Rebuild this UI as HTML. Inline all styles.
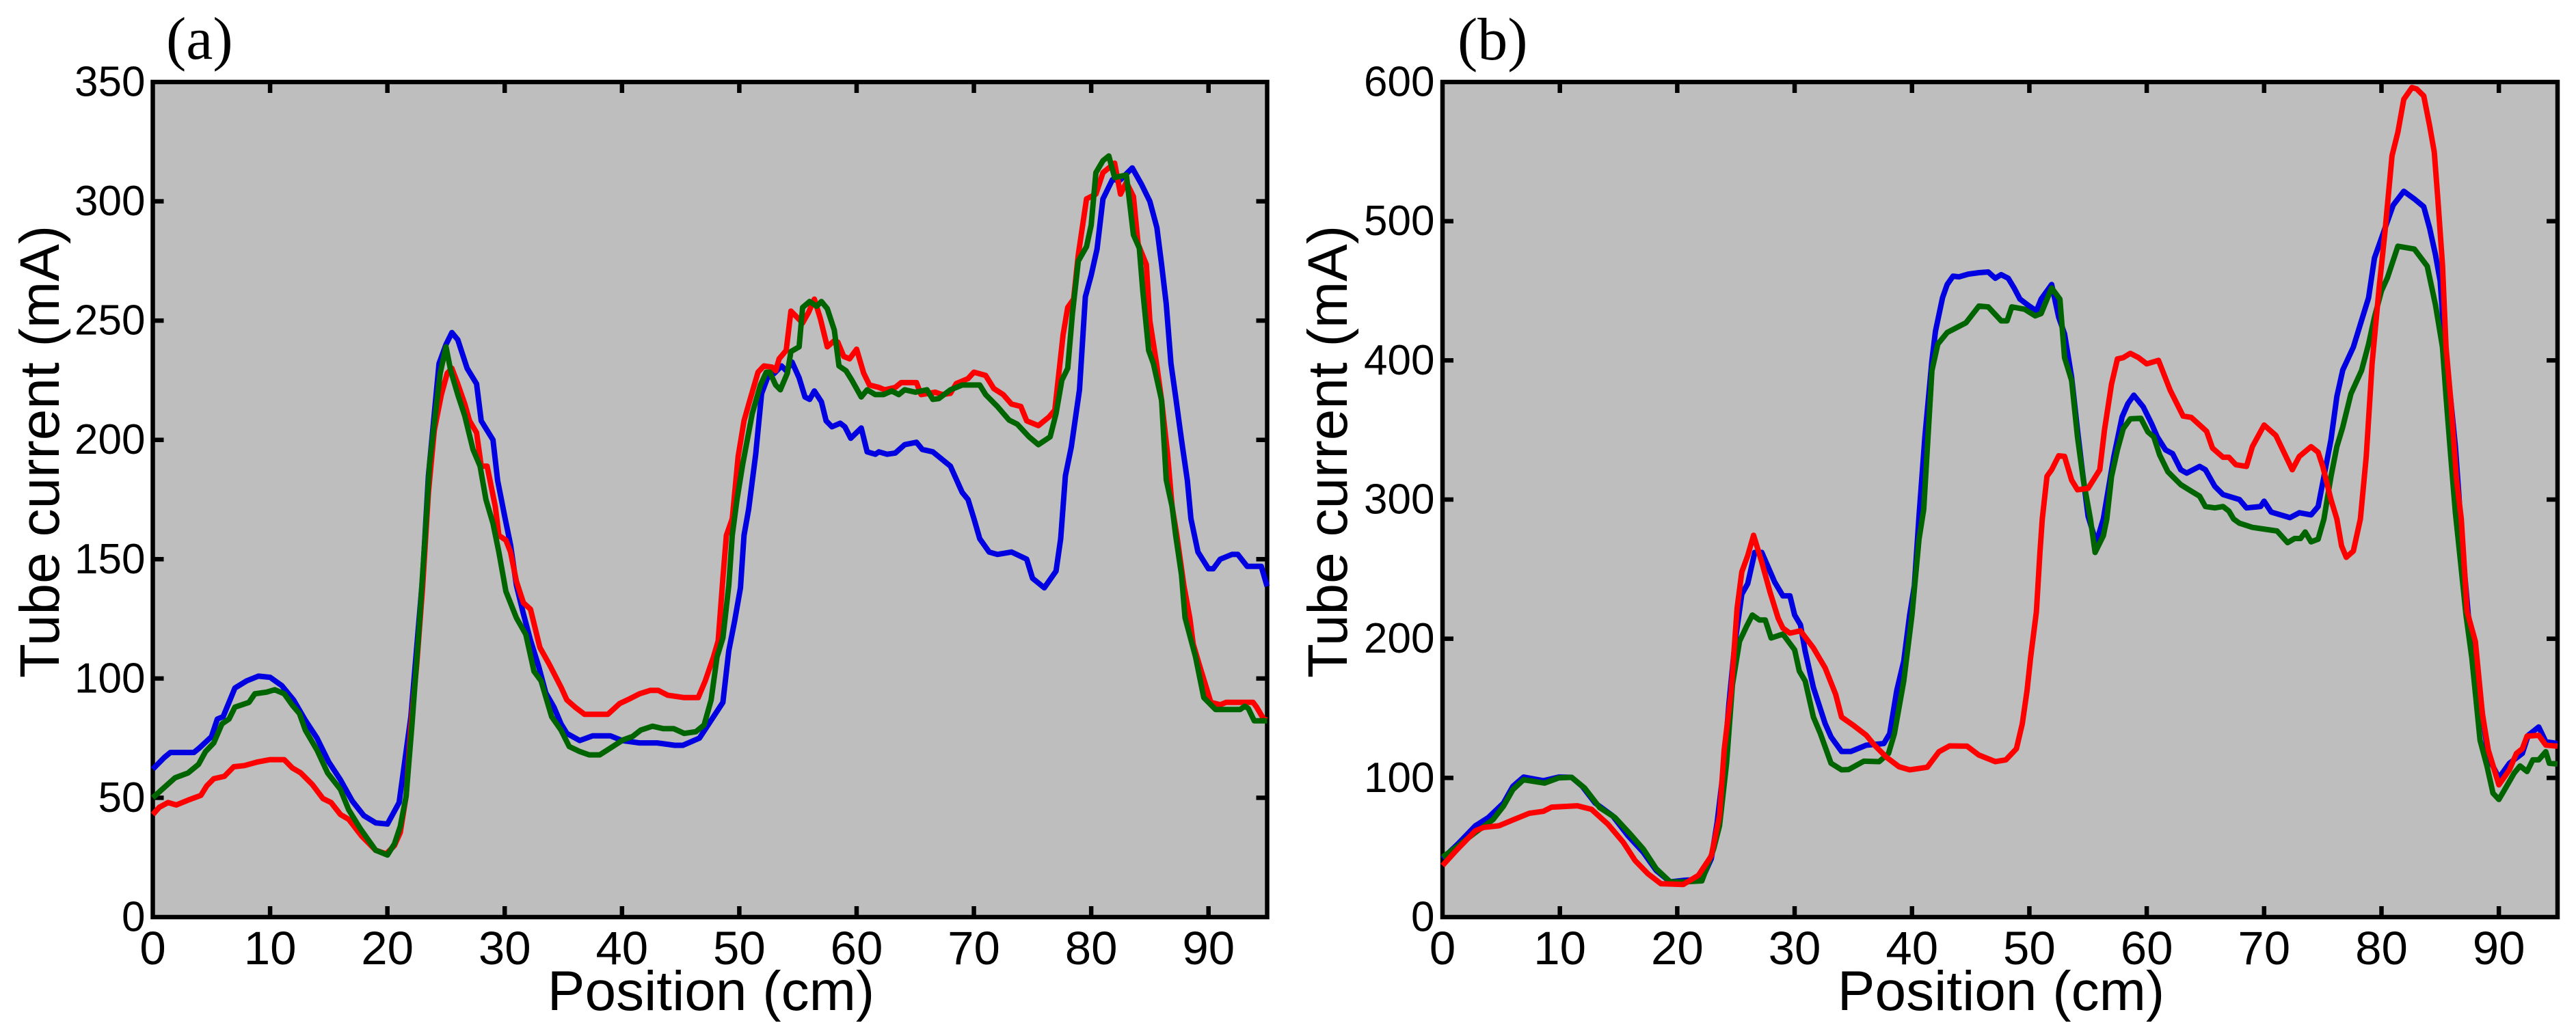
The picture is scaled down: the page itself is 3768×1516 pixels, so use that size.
<!DOCTYPE html>
<html lang="en">
<head>
<meta charset="utf-8">
<title>Tube current versus position</title>
<style>
html,body{margin:0;padding:0;background:#fff;width:3768px;height:1516px;overflow:hidden}
svg{display:block}
text{font-family:"Liberation Sans",Arial,sans-serif;fill:#000}
.panel-tag{font-family:"Liberation Serif","Times New Roman",serif;font-size:88px}
.x-label,.y-label{font-size:82px;text-anchor:middle}
.x-tick{font-size:69px;text-anchor:middle}
.y-tick{font-size:62px;text-anchor:end}
</style>
</head>
<body>
<svg id="figure" xmlns="http://www.w3.org/2000/svg" width="3768" height="1516" viewBox="0 0 3768 1516">
  <text class="panel-tag" x="243" y="86">(a)</text>
  <text class="panel-tag" x="2132" y="87">(b)</text>
  <text class="y-label" transform="translate(86 661) rotate(-90)">Tube current (mA)</text>
  <text class="y-label" transform="translate(1970 661) rotate(-90)">Tube current (mA)</text>
  <text class="x-label" x="1040" y="1478">Position (cm)</text>
  <text class="x-label" x="2927" y="1478">Position (cm)</text>
</svg>
<script>
const xTickValues = [0,10,20,30,40,50,60,70,80,90];
const yTickValuesA = [0,50,100,150,200,250,300,350];
const yTickValuesB = [0,100,200,300,400,500,600];

const aBluePos = [0,1,1.5,3.5,4,5,5.5,6,7,8,9,10,11,12,13,14,15,16,17,18,19,20,21,22,23,23.5,24,24.4,25,25.5,26,26.8,27.6,28,29,29.4,30,30.5,31,31.6,32.2,32.9,33.5,34.2,34.8,35.3,36.4,37.5,39,40,41.5,43,44.5,45.2,46.6,47.6,48.6,49.1,49.6,50.1,50.4,50.8,51.4,51.9,52.4,53,53.6,54,54.5,55.1,55.6,56,56.4,57,57.4,57.9,58.6,59,59.5,60.4,60.9,61.6,61.9,62.6,63.3,64.1,65.1,65.6,66.5,68,69,69.5,70,70.5,71.3,72,73.2,74.5,75,76,77,77.4,77.8,78.3,79,79.5,80,80.5,81,81.8,82.5,83.5,84.3,85,85.6,86,86.4,86.8,87.2,87.7,88.2,88.5,89.1,90,90.4,91,92,92.5,93.3,94.5,95];
const aBlueCur = [62,67,69,69,71,75.6,83,84,96,99,101,100.5,97,91,82.5,75,65,57.5,48.7,42.5,39.5,39,48,84,142,185,211,232,240,245,242,230,223.5,208,200,183,168,156,139,127,116,105,94,88,81,77,74,76,76,74,73,73,72,72,75,82.5,90,111.6,124,138,160,171,194,219.4,226,228,231,229,232.6,226,218,217,220.5,216,208,205.5,207,205.5,200.7,205,195,194,195,194,194.5,198,199,196,195,189,178,175,167,158.6,153,152,153,150,142,138,145,158.6,185,197,221,260,269,280,301,309,309,314,307,300,289,273.5,257,232,218,200,183,167,153,146,146,150,152,152,147,147,138.6];

const aRedPos = [0,0.55,1.3,2,3,4.1,4.6,5.2,6.1,6.9,7.8,8.9,10,11.2,11.9,12.6,13.6,14.5,15.2,16,16.7,17.8,19,19.9,20.6,21.1,21.6,22,22.5,23,23.5,24,24.6,25.1,25.5,26,26.6,27,27.6,28,28.5,29.2,29.5,30.1,30.5,31,31.6,32.2,33,33.8,34.8,35.3,36,36.8,38.8,39.8,40.7,41.5,42.4,43.1,43.9,45.3,46.5,47.1,47.8,48.2,48.6,48.9,49.4,49.9,50.4,50.9,51.6,52.1,52.8,53.1,53.4,54,54.4,55.4,55.9,56.4,56.9,57.5,58.1,58.4,58.9,59.4,60,60.6,61.1,61.9,62.4,63.3,63.8,65.1,65.5,66.7,67.3,68,68.5,69.5,70,71,71.7,72.5,73.2,74,74.5,75.5,76.4,76.9,77.6,78,78.5,78.9,79.6,80.4,81,82,82.5,83,83.6,84,84.7,85,85.6,86,86.5,86.9,87.3,87.9,88.4,88.7,89.2,89.8,90.2,91,91.5,93.8,94.1,94.7,95];
const aRedCur = [43,46,48,47,49,51,55,58,59,63,63.5,65,66,66,62.5,60.5,55.6,49.7,48,43,41,34,28,26.5,30,35.5,50.8,80,106,138,178,204,219,228,230,223.5,215,208,203,189,189,172,160,158,153,140.7,131.7,129,113,106,96.4,91,88,85,85,89.5,91.6,93.6,95,95,93,92,92,99,109,115.8,142,160,167,193,208,216.6,228.4,231,230.5,229,234,237.5,254,249,253.4,259,251,239,241.6,241,235,234,238,228,223,222,221,222,224,224,219,220,219,219.5,223.6,225.7,228.4,227,221.5,219,215,214,208,206,209.6,212.5,244,255.5,259,277.7,301,303,312,316,303,308,302,282,273.5,250,231,216.6,194.5,172,160,139,125.5,114.4,106,96.4,90,89,90,90,88,83,82.6];

const aGreenPos = [0,0.9,1.9,3,3.9,4.5,5.2,5.9,6.5,7,8.2,8.7,9.7,10.4,11.2,11.9,12.5,13,14,14.9,16,16.7,17.7,19,20,20.6,21.1,21.6,22.1,22.7,23.2,23.6,24,24.5,25,25.4,26,26.6,27.3,27.9,28.4,29,29.5,30.1,31,31.8,32.5,33.1,34,34.8,35.5,36.4,37.2,38.1,39,40.1,40.9,41.6,42.6,43.5,44.4,45.3,46.3,47,47.6,48.1,48.6,49.1,49.4,49.8,50.3,51.1,51.8,52.3,52.6,53.1,53.5,54.1,54.4,55.1,55.4,56,56.6,57,57.5,58.1,58.5,59.1,59.6,60.4,60.9,61.6,62.3,63,63.6,64.1,65,66,66.5,67,68,69,70.5,71,72,73,73.7,74.7,75.5,76.5,77,77.5,78,78.4,78.9,79.6,80,80.4,81,81.5,82,83,83.6,84.1,84.4,84.9,85.3,86,86.4,86.9,87.2,87.7,88,88.9,89.6,90.6,92.7,93.1,93.4,93.9,95];
const aGreenCur = [50,54,58.4,60.4,64,69.4,73,81,83,88,90,93.6,94.3,95.3,93.6,88.8,85.3,78.4,70,60.4,53.5,45,37,28,26,30.7,38,50.8,81,121,158.6,190,207,228,239,229,219,210,196,189,175,165,153,136.5,125.4,118.5,103,99,84,78.4,71.5,69.4,68,68,70.8,74.3,75.7,78.4,80,79,79,77,77.7,80.5,91,109,117,139,160,175,190,211,223,228.4,228.4,223,221,228,237,239,255.5,258,256,258,255,246,231,229,225,218,221,219,219,220.5,219,221,220,221,217,217.3,221,223,223,219,214,208.3,206.6,201.3,198,201.3,211,225,230,253,275,281,290,312,317,319,310,311,286,280.4,262.5,237.5,232,216.6,183.3,172,160,143.4,125.5,109,92,87,87,88.4,87.4,82.3,82.3];

const bBluePos = [0,1.3,2.8,3.9,5.2,6,6.9,8.6,9.9,11,11.9,13,14.5,15.8,17.1,18.2,19.4,20.7,22.1,22.9,23.4,24,24.4,24.9,25.5,26,26.6,27.2,28.3,29,29.6,30,30.5,30.9,31.6,32.6,33.1,34,34.8,36.1,37.6,38.1,38.7,39.3,39.8,40.2,40.6,41.1,41.7,42,42.6,43,43.5,44,44.8,45.7,46.5,47.1,47.6,48.2,48.7,49.2,50,50.6,51,51.9,52.5,53,53.6,54.1,54.5,55,55.7,56.3,57.2,57.9,58.4,58.9,59.7,60.4,60.9,61.6,62.2,62.9,63.4,64.5,65,65.8,66.5,67.9,68.5,69.7,70,70.6,72.2,73,74,74.6,75.1,75.7,76.2,76.7,77.6,78.2,78.9,79.4,80.3,81,81.9,82.8,83.6,84.1,84.6,85,85.4,85.9,86.3,86.6,86.8,87.4,88,88.6,89.1,90,90.9,92,92.5,93.4,94,95];
const bBlueCur = [42,52.5,65.6,71.5,82,94,100.6,98,100.6,100.4,94,82,72.7,58.5,46.6,33.6,25.3,26.5,27,42,68,110.5,153,196,232,239.5,262,262,240.7,230.8,230.8,217,210,191,165,139,129.5,119,119,123.5,124.7,131.8,162.6,184,217,238,288,345,400,421,445,454.5,460.5,460,462,463,463.5,459,461.6,459,452,444,439,435.5,444,454.5,431,419,388,350,321.4,288,269,286,331,359.4,369,375,366.6,354.7,345,335.7,333,321.4,319,323.8,321.4,309.5,303.6,300,294,295,298.8,291,287,290.5,289,295,316.6,343,374,393,409.5,426,445,473.5,495,511.5,521.5,516,510.4,495,476,457,409.5,371.5,338,302.6,274,217,188.6,146,115,100,110.5,117.6,130.6,136.6,126,124.7];

const bGreenPos = [0,1.3,2.8,4.3,5.2,6,6.9,8.7,9.9,11,12.1,13.4,14.7,16,17.1,18.2,19.4,20.5,22.1,23.1,23.6,24.2,24.7,25.3,25.9,26.4,27,27.5,28,29,30,30.4,30.9,31.6,32.2,33.1,34,34.6,35.9,37.2,38,38.5,39.3,40,40.6,41,41.7,42.2,43,44.6,45.7,46.5,47.6,48.1,48.5,49.6,50.5,51,51.9,52.6,53,53.6,54.1,54.6,55.2,55.6,56.3,56.6,57,57.5,58,58.6,59.5,60.1,60.6,61.1,61.8,62.9,63.6,64.5,65,65.8,66.5,67,67.4,67.9,69,71.1,72,72.6,73.1,73.5,74,74.6,75.1,75.7,76.2,76.7,77.4,78.3,78.9,79.4,80,80.5,81.4,82.8,83.9,84.6,85.2,85.5,85.9,86.3,86.8,87.2,87.7,88.4,89,89.5,90,90.5,91.3,91.8,92.4,92.9,93.4,94,94.3,95];
const bGreenCur = [43,51,60.8,70,79.8,91.6,98.7,96.3,100,100.4,92.8,78.6,71.5,59.6,49,34.8,25.3,25.3,26,49,65.6,110.5,167,198,208.8,217,213.5,213.5,200.5,203.3,192,176.8,169.7,143.7,131.8,110.5,105.8,106,112,111.7,117.6,131.8,169.7,217,271.5,293,392.7,411.7,420,427,439,438.4,428.4,428.4,438.4,436.7,432,433.6,452,444,402,385.6,345,314,286,262,274,286,316.6,335.7,351,358,358.4,348.6,345,332,320,310.7,307,302.4,295,294,295,291.7,286,283,280,277.4,269,272,272,276.7,269.6,271.5,286,316.6,338,352,376,392.7,411.7,431,450,459.3,482,480,467.7,440,409.5,374,331,290.5,250,217,186,127,108,89,84.5,91.6,103.4,108.6,104.6,113,113,118.8,110.5,110];

const bRedPos = [0,1.3,2.8,3.5,4.8,6,7.4,8.6,9.3,11.5,12.7,14.1,15.4,16.4,17.5,18.6,20.5,21.8,22.9,23.6,24,24.6,25.1,25.5,26,26.5,27.2,27.9,28.6,29,29.6,30.5,31.6,32.6,33.5,34,35,36.1,36.8,37.8,38.9,39.8,41.3,42.3,43.2,44.7,45.7,47.1,48,48.9,49.4,49.8,50.1,50.6,50.9,51.1,51.5,51.9,52.5,53,53.6,54.1,55,56,56.4,57,57.5,58,58.6,59.3,60,61,62,63.1,63.8,65.1,65.6,66.5,67,67.6,68.5,69,70,71,72.4,73,74,74.6,75,75.7,76.2,76.6,77,77.6,78.2,78.7,79.2,79.8,80.3,80.9,81.4,81.9,82.6,83,83.6,84.1,84.5,84.8,85.2,85.5,85.9,86.4,86.8,87.3,88,88.6,89.1,90,90.9,91.5,92,92.4,93.4,94,95];
const bRedCur = [37,49,62,64.4,65.6,69.8,74.6,76,79,80,77.4,66.7,53.7,40.7,31.2,24,23.4,30,44,72.7,120,162.6,221.8,248,259.6,274.3,255,233.6,214.7,207.6,204,205.7,193.4,179,160,143.7,137.8,130.7,123.6,115,108,105.8,107.7,118.8,123,122.8,116.4,111.7,113,121,139,162.6,186,219.4,262,286,316.7,321.4,331.4,331,314,307,308,321.4,350,383,401,402,405,402,397.5,400,378.5,360,359,349,337,330.4,330.4,325,323.8,338,353.5,346,321.4,331,338,334,323.8,300,286,266.7,258.5,263,286,331,397.5,452,492.5,547,564,587.6,596,595,590,568.6,549.6,516,468.6,409.5,371.5,314,286,219.4,198,146,120,95,105.8,117.6,121,130,130.6,123.6,122.8];

const figure = document.getElementById('figure');
const SVG_NS = 'http://www.w3.org/2000/svg';

function makeScale(d0, d1, p0, p1) {
  return function (v) { return p0 + (v - d0) * (p1 - p0) / (d1 - d0); };
}

function addRect(parent, x, y, w, h, fill) {
  const r = document.createElementNS(SVG_NS, 'rect');
  r.setAttribute('x', x);
  r.setAttribute('y', y);
  r.setAttribute('width', w);
  r.setAttribute('height', h);
  r.setAttribute('fill', fill);
  parent.appendChild(r);
  return r;
}

function drawPanel(tag, bounds, xMax, yMax, yTicks, yLabelX, series) {
  const sx = makeScale(0, xMax, bounds.left, bounds.right);
  const sy = makeScale(0, yMax, bounds.bottom, bounds.top);

  const group = document.createElementNS(SVG_NS, 'g');
  
  
  figure.appendChild(group);

  const bg = addRect(group, bounds.left, bounds.top, bounds.right - bounds.left, bounds.bottom - bounds.top, '#bebebe');
  
  

  const T = 6.5, L = 16;
  xTickValues.forEach(function (v) {
    const x = sx(v);
    if (v !== 0) {
      const bottomTick = addRect(group, x - T / 2, bounds.bottom - L, T, L, '#000');
      
      
      const topTick = addRect(group, x - T / 2, bounds.top, T, L, '#000');
      
      
    }
    const label = document.createElementNS(SVG_NS, 'text');
    label.setAttribute('class', 'x-tick');
    label.setAttribute('x', x);
    label.setAttribute('y', 1411);
    
    
    label.textContent = String(v);
    group.appendChild(label);
  });

  yTicks.forEach(function (v) {
    const y = sy(v);
    if (v !== 0 && v !== yMax) {
      const leftTick = addRect(group, bounds.left, y - T / 2, L, T, '#000');
      
      
      const rightTick = addRect(group, bounds.right - L, y - T / 2, L, T, '#000');
      
      
    }
    const label = document.createElementNS(SVG_NS, 'text');
    label.setAttribute('class', 'y-tick');
    label.setAttribute('x', yLabelX);
    label.setAttribute('y', y + 20.5);
    
    
    label.textContent = String(v);
    group.appendChild(label);
  });

  const frame = document.createElementNS(SVG_NS, 'rect');
  frame.setAttribute('x', bounds.left);
  frame.setAttribute('y', bounds.top);
  frame.setAttribute('width', bounds.right - bounds.left);
  frame.setAttribute('height', bounds.bottom - bounds.top);
  frame.setAttribute('fill', 'none');
  frame.setAttribute('stroke', '#000');
  frame.setAttribute('stroke-width', 6.5);
  
  
  group.appendChild(frame);

  series.forEach(function (s) {
    const line = document.createElementNS(SVG_NS, 'polyline');
    line.setAttribute('points', s.pos.map(function (p, i) {
      return sx(p).toFixed(1) + ',' + sy(s.cur[i]).toFixed(1);
    }).join(' '));
    line.setAttribute('fill', 'none');
    line.setAttribute('stroke', s.color);
    line.setAttribute('stroke-width', 8);
    line.setAttribute('stroke-linejoin', 'round');
    
    
    group.appendChild(line);
  });
}

drawPanel('a', {left: 223.5, right: 1853.5, top: 120, bottom: 1342}, 95, 350, yTickValuesA, 212.5, [
  {name: 'blue', color: '#0000e0', pos: aBluePos, cur: aBlueCur},
  {name: 'red', color: '#ff0000', pos: aRedPos, cur: aRedCur},
  {name: 'green', color: '#006400', pos: aGreenPos, cur: aGreenCur}
]);

drawPanel('b', {left: 2110, right: 3741, top: 120, bottom: 1342}, 95, 600, yTickValuesB, 2098.5, [
  {name: 'blue', color: '#0000e0', pos: bBluePos, cur: bBlueCur},
  {name: 'green', color: '#006400', pos: bGreenPos, cur: bGreenCur},
  {name: 'red', color: '#ff0000', pos: bRedPos, cur: bRedCur}
]);
</script>
</body>
</html>
